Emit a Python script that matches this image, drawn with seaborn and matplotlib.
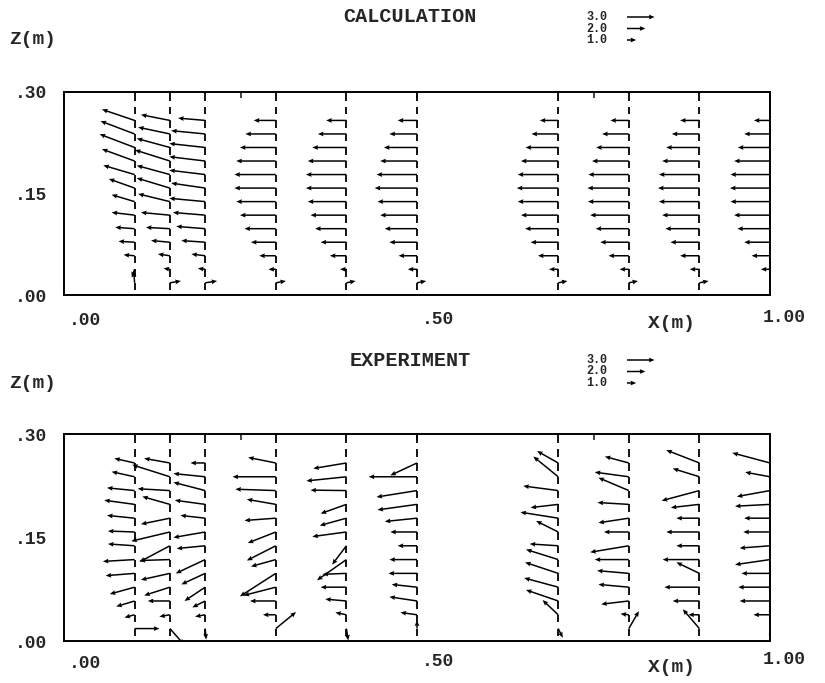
import numpy as np
import pandas as pd
import matplotlib
matplotlib.use("Agg")
import matplotlib.pyplot as plt
import seaborn as sns

# measuring stations (m) and heights of the vectors (m), top -> bottom
stations = [0.10, 0.15, 0.20, 0.30, 0.40, 0.50, 0.70, 0.80, 0.90, 1.00]
z_levels = [0.258, 0.238, 0.218, 0.198, 0.178, 0.158, 0.138, 0.118, 0.098, 0.078, 0.058, 0.038, 0.018]

# CALCULATION: horizontal (u) and vertical (w) velocity, one row per station
calc_u = [
    [-3.55, -3.7, -3.8, -3.55, -3.4, -2.8, -2.5, -2.5, -2.1, -1.75, -1.2, -0.3, -0.1],
    [-3.15, -3.45, -3.6, -3.8, -3.6, -3.6, -3.45, -3.15, -2.6, -2.05, -1.3, -0.7, 1.2],
    [-2.95, -3.7, -3.9, -3.9, -3.9, -3.7, -3.9, -3.5, -3.15, -2.6, -1.5, -0.8, 1.3],
    [-2.4, -3.3, -3.9, -4.3, -4.5, -4.5, -4.3, -3.9, -3.4, -2.7, -1.8, -0.8, 1.1],
    [-2.2, -3.1, -3.7, -4.2, -4.4, -4.4, -4.2, -3.9, -3.4, -2.8, -1.8, -0.7, 1.0],
    [-2.1, -3.0, -3.6, -4.0, -4.4, -4.6, -4.3, -4.0, -3.5, -3.0, -2.0, -1.0, 1.0],
    [-2.0, -2.9, -3.55, -4.05, -4.4, -4.5, -4.4, -4.05, -3.6, -3.0, -2.2, -1.0, 1.0],
    [-2.0, -2.9, -3.55, -4.0, -4.4, -4.5, -4.45, -4.2, -3.6, -3.1, -2.2, -1.0, 1.0],
    [-2.1, -3.0, -3.6, -4.05, -4.4, -4.5, -4.4, -4.05, -3.7, -3.15, -2.1, -1.05, 1.0],
    [-1.75, -2.8, -3.5, -3.9, -4.3, -4.35, -4.3, -3.9, -3.55, -2.8, -2.0, -1.0, 0.7],
]
calc_w = [
    [1.2, 1.4, 1.45, 1.3, 1.0, 1.0, 0.75, 0.3, 0.15, 0.1, 0.1, -0.9, 1.3],
    [0.62, 0.73, 0.98, 1.2, 0.98, 1.09, 0.84, 0.29, 0.14, 0.18, 0.18, 0.1, 0.2],
    [0.25, 0.36, 0.43, 0.47, 0.47, 0.54, 0.36, 0.29, 0.25, 0.18, 0.18, 0.1, 0.2],
    [0.0, 0.0, 0.0, 0.0, 0.0, 0.0, 0.0, 0.0, 0.0, 0.0, 0.0, 0.0, 0.2],
    [0.0, 0.0, 0.0, 0.0, 0.0, 0.0, 0.0, 0.0, 0.0, 0.0, 0.0, 0.0, 0.2],
    [0.0, 0.0, 0.0, 0.0, 0.0, 0.0, 0.0, 0.0, 0.0, 0.0, 0.0, 0.0, 0.2],
    [0.0, 0.0, 0.0, 0.0, 0.0, 0.0, 0.0, 0.0, 0.0, 0.0, 0.0, 0.0, 0.2],
    [0.0, 0.0, 0.0, 0.0, 0.0, 0.0, 0.0, 0.0, 0.0, 0.0, 0.0, 0.0, 0.2],
    [0.0, 0.0, 0.0, 0.0, 0.0, 0.0, 0.0, 0.0, 0.0, 0.0, 0.0, 0.0, 0.2],
    [0.0, 0.0, 0.0, 0.0, 0.0, 0.0, 0.0, 0.0, 0.0, 0.0, 0.0, 0.0, 0.2],
]

# EXPERIMENT
exp_u = [
    [-2.2, -2.5, -3.0, -3.3, -3.0, -2.9, -2.9, -3.45, -3.15, -2.7, -2.0, -1.1, 2.7],
    [-2.8, -4.1, -3.5, -3.0, -3.15, -4.2, -3.3, -3.3, -3.15, -2.8, -2.4, -1.15, 1.55],
    [-1.6, -3.45, -3.45, -3.3, -2.7, -3.45, -3.1, -3.2, -2.6, -2.25, -1.4, -1.1, 0.1],
    [-3.0, -4.7, -4.4, -3.15, -3.4, -3.05, -3.15, -2.7, -3.9, -3.5, -2.8, -1.4, 2.2],
    [-3.6, -4.35, -3.9, -2.8, -2.9, -3.7, -1.55, -3.2, -2.6, -2.8, -2.3, -1.2, 0.2],
    [-2.9, -5.25, -4.4, -4.3, -3.5, -2.9, -2.1, -3.0, -3.1, -2.75, -3.0, -1.8, 0.0],
    [-2.3, -2.7, -3.8, -3.0, -4.1, -2.4, -3.1, -3.5, -3.6, -3.7, -3.5, -1.7, 0.5],
    [-2.6, -3.7, -3.3, -3.4, -3.3, -2.7, -4.2, -3.7, -3.45, -3.3, -3.0, -0.9, 1.1],
    [-3.6, -2.9, -4.1, -3.1, -2.5, -3.6, -2.5, -4.0, -2.5, -3.8, -2.9, -1.2, -1.8],
    [-4.1, -2.7, -3.6, -3.8, -2.8, -2.9, -3.3, -3.8, -3.1, -3.45, -3.3, -1.8, 0.2],
]
exp_w = [
    [0.5, 0.55, 0.3, 0.45, 0.3, 0.1, 0.2, -0.2, -0.25, -0.75, -0.6, -0.3, 0.0],
    [0.5, 1.3, 0.2, 0.85, -0.65, -1.0, -1.75, -0.1, -0.7, -0.9, 0.0, -0.2, -1.75],
    [0.0, 0.35, 0.9, 0.45, 0.3, -0.6, -0.3, -1.5, -1.2, -1.5, -0.7, -0.2, -1.2],
    [0.6, 0.0, 0.15, 0.55, -0.25, -1.2, -1.6, -0.75, -2.5, -0.9, 0.0, 0.0, 1.8],
    [-0.6, -0.45, 0.05, -1.0, -0.8, -0.5, -2.05, -2.25, -0.1, 0.0, 0.2, 0.25, -1.3],
    [-1.35, 0.0, -0.7, -0.6, -0.36, 0.0, 0.0, 0.0, 0.0, 0.3, 0.45, 0.25, 0.9],
    [1.3, 2.2, 0.5, -0.35, 0.65, 1.2, 0.2, 1.1, 1.2, 1.0, 1.2, 1.6, -1.0],
    [0.7, 0.5, 1.4, 0.2, -0.5, 0.0, -0.7, 0.0, 0.3, 0.3, -0.35, 0.1, 1.9],
    [1.4, 0.9, -1.1, -0.35, 0.0, 0.0, 0.0, 0.0, 1.2, 0.0, 0.0, 0.0, 2.1],
    [1.1, 0.5, -0.65, -0.2, 0.0, 0.0, -0.25, -0.55, 0.0, 0.0, 0.0, 0.0, -1.2],
]

scale_values = [3.0, 2.0, 1.0]

W, H = 825, 683


def px(x, y):
    # pixel position (from top left) to figure fraction
    return x / W, 1 - y / H


def to_frame(u_rows, w_rows):
    recs = []
    for xs, ur, wr in zip(stations, u_rows, w_rows):
        for z, u, w in zip(z_levels, ur, wr):
            recs.append({"x": xs, "z": z, "u": u, "w": w})
    return pd.DataFrame(recs)


sns.set_style("white")
plt.rcParams["font.family"] = ["Liberation Mono", "DejaVu Sans Mono"]
plt.rcParams["font.weight"] = "bold"

fig = plt.figure(figsize=(W / 100, H / 100), dpi=100)

quiv = dict(angles="uv", scale_units="inches", scale=1 / 0.092, pivot="tail",
            units="dots", width=1.5, headwidth=3.2, headlength=3.8,
            headaxislength=3.4, color="black")


def panel(rect, df, title, title_y):
    ax = fig.add_axes(rect)
    ax.quiver(df["x"], df["z"], df["u"], df["w"], **quiv)
    # dashed station lines, one dash under each vector
    step = z_levels[0] - z_levels[1]
    dash_tops = list(z_levels) + [z_levels[0] + step, z_levels[0] + 2 * step]
    for xs in stations:
        ax.vlines([xs] * len(dash_tops), [t - 0.011 for t in dash_tops], dash_tops,
                  color="black", lw=1.3)
    ax.set_xlim(0, 1)
    ax.set_ylim(0, 0.3)
    ax.set_xticks([0, 0.25, 0.5, 0.75, 1.0])
    ax.set_xticklabels([])
    ax.set_yticks([0, 0.075, 0.15, 0.225, 0.3])
    ax.set_yticklabels([".00", "", ".15", "", ".30"], fontsize=13)
    ax.tick_params(axis="x", direction="in", top=True, length=4, width=1.2)
    ax.tick_params(axis="y", direction="in", length=4, width=1.2, pad=12)
    for s in ax.spines.values():
        s.set_color("black")
        s.set_linewidth(1.4)

    fig.text(*px(410, title_y), title, ha="center", va="center", fontsize=14.5)
    fig.text(*px(33, title_y + 23), "Z(m)", ha="center", va="center", fontsize=14)
    base = title_y + 304
    fig.text(*px(85, base), ".00", ha="center", va="center", fontsize=13)
    fig.text(*px(438, base - 2), ".50", ha="center", va="center", fontsize=13)
    fig.text(*px(784, base - 4), "1.00", ha="center", va="center", fontsize=13)
    fig.text(*px(672, base + 3), "X(m)", ha="center", va="center", fontsize=14)

    # reference vectors
    lx, ly = px(570, title_y + 34)
    lax = fig.add_axes([lx, ly, 130 / W, 40 / H])
    lax.set_xlim(0, 130)
    lax.set_ylim(40, 0)
    lax.axis("off")
    ys = [6 + 11.5 * i for i in range(len(scale_values))]
    lax.quiver([57] * len(ys), ys, scale_values, [0] * len(ys), **quiv)
    for yy, v in zip(ys, scale_values):
        lax.text(37, yy, f"{v:.1f}", ha="right", va="center", fontsize=8.5)
    return ax


panel([64 / W, 1 - 295 / H, 706 / W, 203 / H], to_frame(calc_u, calc_w),
      "CALCULATION", 17)
panel([64 / W, 1 - 641 / H, 706 / W, 207 / H], to_frame(exp_u, exp_w),
      "EXPERIMENT", 360)

fig.savefig("out.png", dpi=100, facecolor="white")
